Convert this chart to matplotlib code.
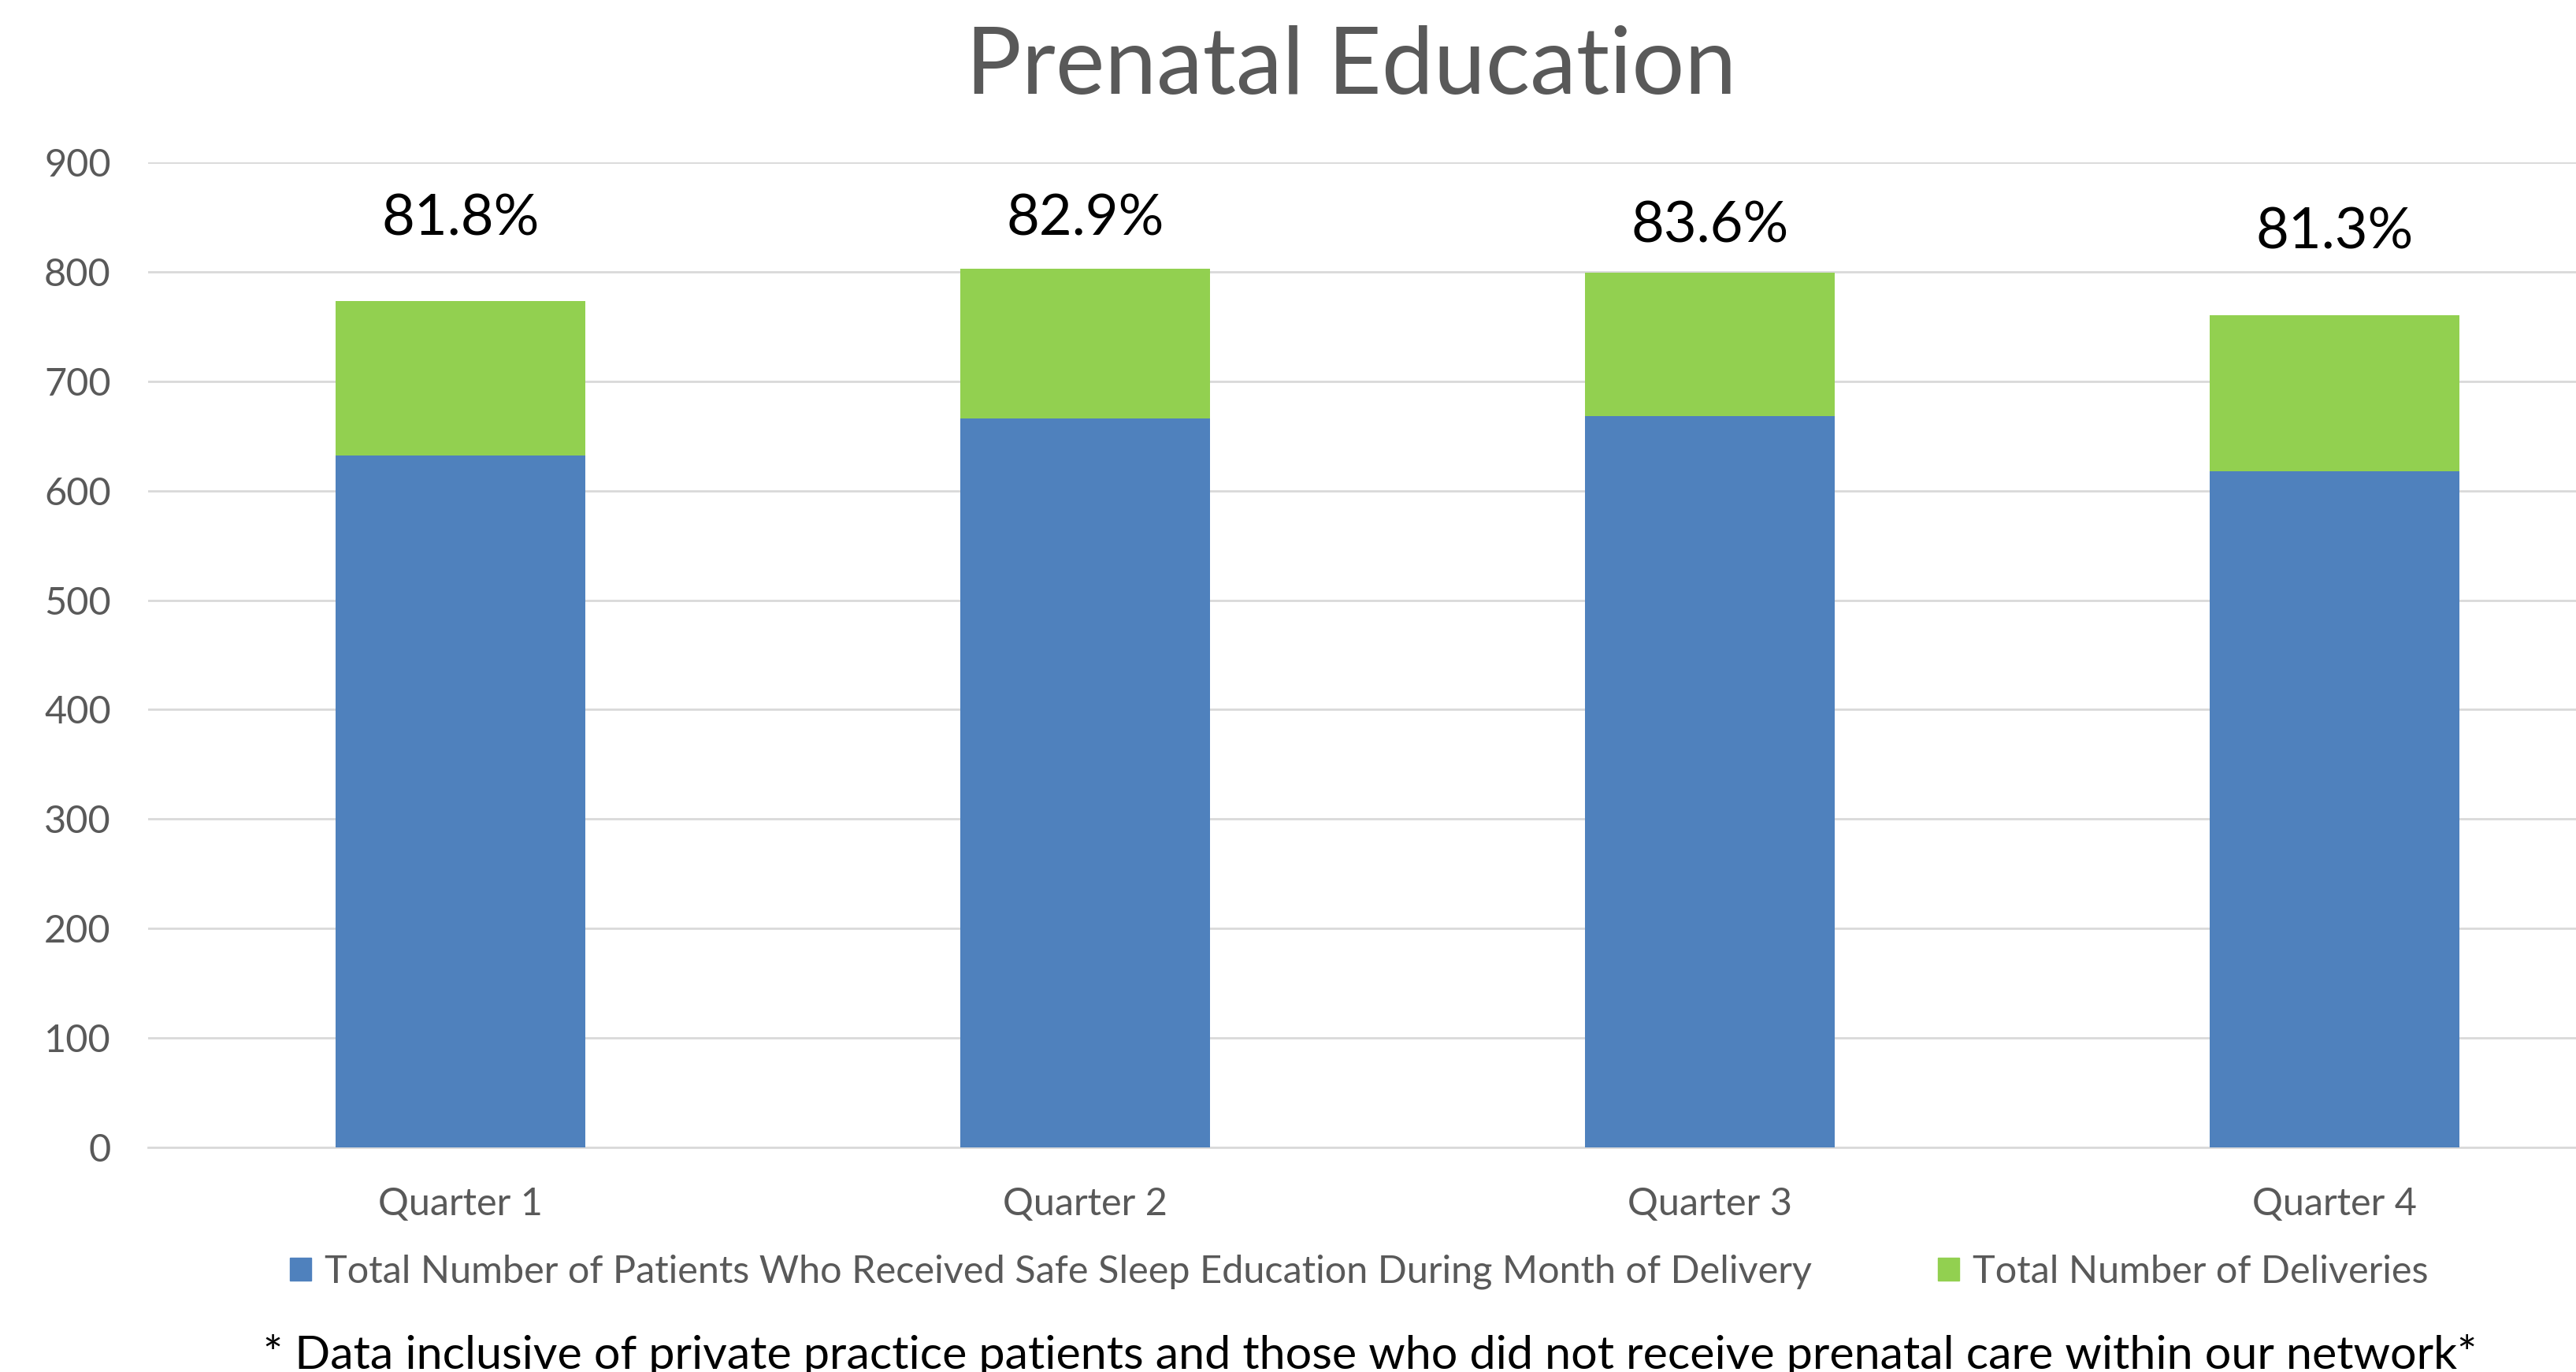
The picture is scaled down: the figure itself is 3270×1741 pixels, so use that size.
import matplotlib.pyplot as plt
from matplotlib.patches import Patch

plt.rcParams['font.family'] = ['Lato', 'DejaVu Sans']

quarters = ['Quarter 1', 'Quarter 2', 'Quarter 3', 'Quarter 4']
educated = [632, 666, 668, 618]
deliveries = [773, 803, 799, 760]
pct_labels = ['81.8%', '82.9%', '83.6%', '81.3%']
pct_label_y = [848, 848, 842, 836]

BLUE = '#4F81BD'
GREEN = '#92D050'
GREY = '#595959'
GRID = '#D9D9D9'

fig = plt.figure(figsize=(32.7, 17.41), dpi=100)
ax = fig.add_axes([188 / 3270, 1 - 1456 / 1741, 3172 / 3270, (1456 - 206) / 1741])

x = range(len(quarters))
# green bar = all deliveries, blue bar = educated patients drawn in front
ax.bar(x, deliveries, width=0.4, color=GREEN, zorder=2)
ax.bar(x, educated, width=0.4, color=BLUE, zorder=3)

for i, lab in enumerate(pct_labels):
    ax.text(i, pct_label_y[i], lab, ha='center', va='center', fontsize=52, color='black')

ax.set_xlim(-0.5, 3.5)
ax.set_ylim(0, 900)
ax.set_yticks(range(0, 901, 100))
ax.set_xticks(list(x))
ax.set_xticklabels(quarters)
ax.tick_params(axis='both', length=0, labelsize=35, labelcolor=GREY)
ax.tick_params(axis='x', pad=36)
ax.tick_params(axis='y', pad=34)
ax.grid(axis='y', color=GRID, linewidth=2, zorder=0)
ax.set_axisbelow(True)
for s in ['top', 'right', 'left']:
    ax.spines[s].set_visible(False)
ax.spines['bottom'].set_color(GRID)
ax.spines['bottom'].set_linewidth(2)

fig.text(1715 / 3270, 1 - 86 / 1741, 'Prenatal Education', ha='center', va='center',
         fontsize=85, color=GREY)

handles = [Patch(color=BLUE, label='Total Number of Patients Who Received Safe Sleep Education During Month of Delivery'),
           Patch(color=GREEN, label='Total Number of Deliveries')]
fig.legend(handles=handles, loc='center', bbox_to_anchor=(1725 / 3270, 1 - 1614 / 1741), ncol=2,
           frameon=False, fontsize=35, labelcolor=GREY, handlelength=0.55, handleheight=0.55,
           handletextpad=0.35, columnspacing=3.3)

fig.text(1739 / 3270, 1 - 1720 / 1741,
         '* Data inclusive of private practice patients and those who did not receive prenatal care within our network*',
         ha='center', va='center', fontsize=42.7, color='black')

fig.savefig('out.png', dpi=100)
